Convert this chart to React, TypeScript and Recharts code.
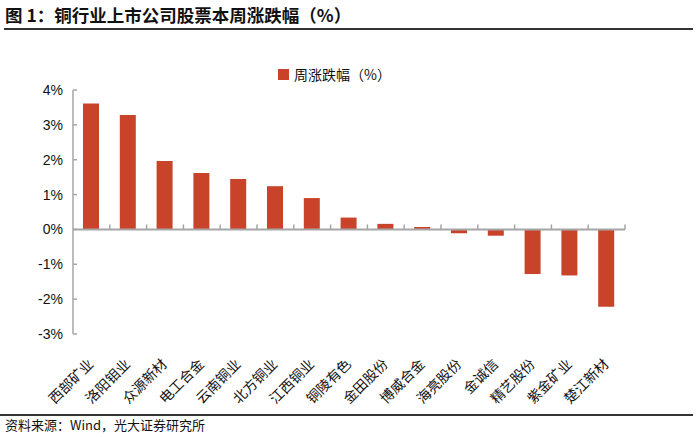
import React from 'react';
import { BarChart, Bar, XAxis, YAxis, ReferenceLine, Legend } from 'recharts';

const companies = [
  '西部矿业', '洛阳钼业', '众源新材', '电工合金', '云南铜业', '北方铜业', '江西铜业', '铜陵有色',
  '金田股份', '博威合金', '海亮股份', '金诚信', '精艺股份', '紫金矿业', '楚江新材',
];
const weeklyChange = [3.61, 3.28, 1.96, 1.62, 1.45, 1.24, 0.9, 0.34, 0.16, 0.07, -0.11, -0.18, -1.28, -1.32, -2.22];
const yTicks = [-3, -2, -1, 0, 1, 2, 3, 4];
const seriesName = '周涨跌幅（%）';

const data = companies.map((name, i) => ({ name, value: weeklyChange[i] }));

const BAR = '#c9432a';
const AXIS = '#a6a6a6';
const CJK = '"Noto Sans CJK SC", "Noto Sans", sans-serif';

const PLOT_LEFT = 73;
const PLOT_TOP = 90;
const PLOT_RIGHT = 625;
const PLOT_BOTTOM = 334;
const W = 699;
const H = 437;

function YTick({ x, y, payload }: any) {
  return (
    <g>
      <text x={x} y={y} dy={5} textAnchor="end" fontSize={14} fill="#111" fontFamily='"Liberation Sans", Arial, sans-serif'>
        {`${payload.value}%`}
      </text>
      <line x1={PLOT_LEFT} x2={PLOT_LEFT + 4} y1={y} y2={y} stroke={AXIS} strokeWidth={1.5} />
    </g>
  );
}

function XTick({ x, y, payload }: any) {
  const ax = x + 3;
  const ay = y + 23;
  return (
    <text x={ax} y={ay} textAnchor="end" fontSize={14} fill="#111" fontFamily={CJK}
      transform={`rotate(-45, ${ax}, ${ay})`}>
      {payload.value}
    </text>
  );
}

// zero line with category boundary ticks
function ZeroLine(props: any) {
  const { x1, x2, y1 } = props;
  const step = (x2 - x1) / companies.length;
  return (
    <g>
      <line x1={x1} x2={x2} y1={y1} y2={y1} stroke={AXIS} strokeWidth={2} />
      {companies.map((_, i) => (
        <line key={i} x1={x1 + step * (i + 1)} x2={x1 + step * (i + 1)} y1={y1} y2={y1 - 5} stroke={AXIS} strokeWidth={1.5} />
      ))}
    </g>
  );
}

function LegendContent() {
  return (
    <div style={{ display: 'flex', alignItems: 'center', fontFamily: CJK, fontSize: 14, color: '#111' }}>
      <span style={{ display: 'inline-block', width: 11, height: 11, background: BAR, marginRight: 5 }} />
      {seriesName}
    </div>
  );
}

export default function App() {
  return (
    <div style={{ position: 'absolute', left: 0, top: 0, width: W, height: H, background: '#fff', fontFamily: CJK }}>
      <div style={{ position: 'absolute', left: 5, top: 4, fontSize: 17.5, fontWeight: 700, color: '#111', lineHeight: '22px' }}>
        图 1：铜行业上市公司股票本周涨跌幅（%）
      </div>
      <div style={{ position: 'absolute', left: 4, top: 28, width: 689, height: 1.5, background: '#333' }} />

      <BarChart
        width={W}
        height={H}
        data={data}
        margin={{ top: PLOT_TOP, right: W - PLOT_RIGHT, bottom: H - PLOT_BOTTOM - 60, left: PLOT_LEFT - 50 }}
        style={{ position: 'absolute', left: 0, top: 0 }}
      >
        <XAxis dataKey="name" height={60} axisLine={false} tickLine={false} interval={0} tick={<XTick />} />
        <YAxis
          width={50}
          domain={[-3, 4]}
          ticks={yTicks}
          tickSize={0}
          tickMargin={10}
          axisLine={{ stroke: AXIS, strokeWidth: 1.5 }}
          tickLine={false}
          tick={<YTick />}
        />
        <Legend
          verticalAlign="middle"
          wrapperStyle={{ top: 64, left: 278, width: 'auto' }}
          content={<LegendContent />}
        />
        <ReferenceLine y={0} shape={<ZeroLine />} />
        <Bar dataKey="value" name={seriesName} fill={BAR} barSize={16} isAnimationActive={false} />
      </BarChart>

      <div style={{ position: 'absolute', left: 0, top: 414, width: 693, height: 1.5, background: '#333' }} />
      <div style={{ position: 'absolute', left: 5, top: 416, fontSize: 13, color: '#111', lineHeight: '18px' }}>
        资料来源：Wind，光大证券研究所
      </div>
    </div>
  );
}
